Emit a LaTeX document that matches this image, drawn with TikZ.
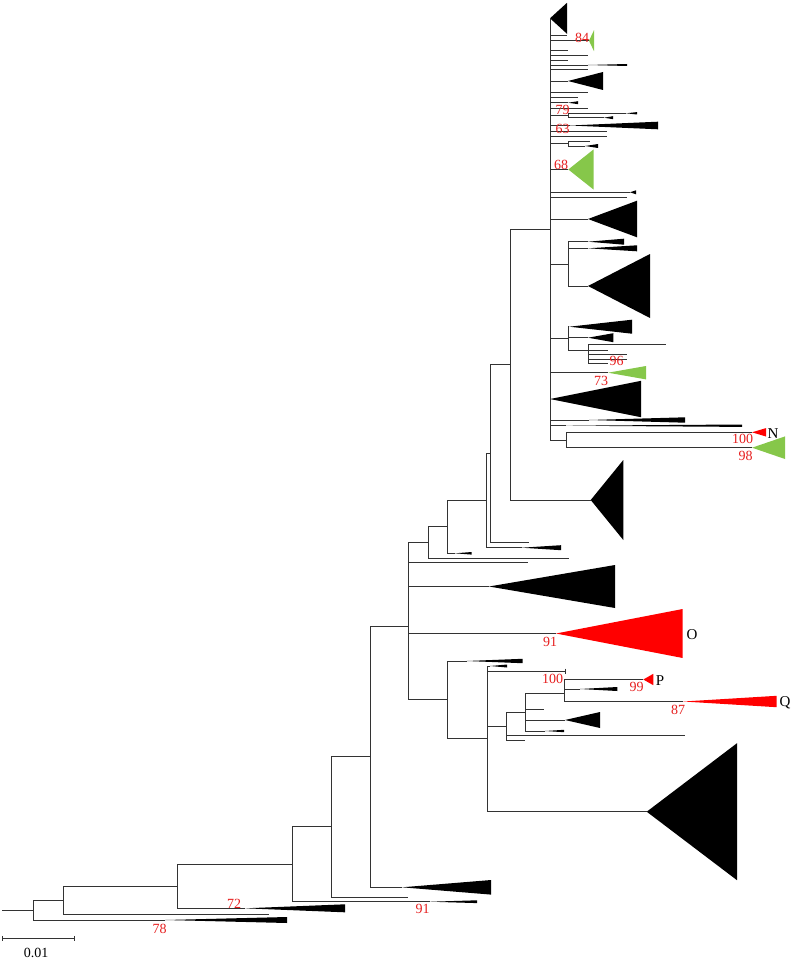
\documentclass[tikz,border=0pt]{standalone}
\usepackage{fontspec}
\setmainfont{Liberation Serif}
\usetikzlibrary{calc}
\definecolor{cgreen}{RGB}{134,199,74}
\definecolor{cred}{RGB}{255,0,0}
\definecolor{lred}{RGB}{230,30,30}
\newcommand\br[2]{\draw[tree] (#1) |- (#2);}
\newcommand\cl[6]{\coordinate (#1) at (#2,#3);\fill[#6] (#1) -- (#4,#3-#5) -- (#4,#3+#5) -- cycle;}
\newcommand\lf[3]{\coordinate (#1) at (#2,#3);}
\begin{document}
\begin{tikzpicture}[x=1pt,y=-1pt,
  tree/.style={draw=black!80,line width=0.9pt},
  bs/.style={text=lred,font=\fontsize{14}{14}\selectfont,inner sep=0pt},
  tag/.style={text=black,font=\fontsize{15}{15}\selectfont,inner sep=0pt}]
\useasboundingbox (0,0) rectangle (793,960);
% ---- basal part
\coordinate (rs) at (2,910.7);
\coordinate (r0) at (33,910.7);
\draw[tree] (rs) -- (r0);
\coordinate (n1) at (63,900.7); \br{r0}{n1}
\cl{t78}{165}{920}{287}{3}{black} \br{r0}{t78}
\node[bs] at (159.5,929.3) {78};
\coordinate (n2) at (177,886.7); \br{n1}{n2}
\lf{l1}{269}{914.7} \br{n1}{l1}
\coordinate (n3) at (292,864.3); \br{n2}{n3}
\cl{t72}{245}{908.3}{345}{4}{black} \br{n2}{t72}
\node[bs] at (234,904) {72};
\coordinate (n4) at (331,826.7); \br{n3}{n4}
\cl{t91}{430}{901.7}{477}{1.4}{black} \br{n3}{t91}
\node[bs] at (422.5,909.3) {91};
\coordinate (n5) at (370.7,756.7); \br{n4}{n5}
\lf{l2}{408.3}{897.3} \br{n4}{l2}
\coordinate (n6) at (408.7,626); \br{n5}{n6}
\cl{tb1}{402}{887.3}{491}{7.3}{black} \br{n5}{tb1}
% ---- n6
\coordinate (n7) at (428.5,542.3); \br{n6}{n7}
\lf{l3}{527.7}{562.7} \br{n6}{l3}
\cl{tA}{489}{586.5}{615}{21.5}{black} \br{n6}{tA}
\cl{tO}{556}{633.5}{682.7}{24.5}{cred} \br{n6}{tO}
\node[bs] at (550,641.7) {91};
\node[tag] at (692,635) {O};
\coordinate (n8) at (447.7,699.3); \br{n6}{n8}
% ---- n7 .. n12
\coordinate (n9) at (447.7,526.7); \br{n7}{n9}
\lf{l4}{569}{558.3} \br{n7}{l4}
\coordinate (n10) at (486.7,500.7); \br{n9}{n10}
\cl{w1}{455}{553.3}{471.7}{1.3}{black} \br{n9}{w1}
\coordinate (n11) at (490.7,453.3); \br{n10}{n11}
\cl{w2}{521.7}{547.7}{561}{2.5}{black} \br{n10}{w2}
\coordinate (n12) at (510.3,364.3); \br{n11}{n12}
\lf{l5}{529.3}{542.7} \br{n11}{l5}
\coordinate (n13) at (550,229); \br{n12}{n13}
\cl{tB}{590.7}{500}{623.3}{40}{black} \br{n12}{tB}
% ---- n8 subtree
\cl{w3}{466.7}{661}{522.5}{2.2}{black} \br{n8}{w3}
\coordinate (n14) at (487.7,738.5); \br{n8}{n14}
\cl{w4}{490}{666}{507}{1.5}{black} \br{n14}{w4}
\lf{l6}{565}{671} \br{n14}{l6}
\coordinate (l6t) at (565,668.5); \coordinate (l6b) at (565,673.5);
\draw[tree] (l6t) -- (l6b);
\coordinate (n15) at (506.7,726.7); \br{n14}{n15}
\cl{tC}{646.7}{811.7}{737}{68.5}{black} \br{n14}{tC}
\coordinate (n16) at (525.7,712.3); \br{n15}{n16}
\lf{l7}{685}{735.7} \br{n15}{l7}
\lf{l8}{525}{740} \br{n15}{l8}
\coordinate (n17) at (564,693.3); \br{n16}{n17}
\lf{l9}{544}{709.3} \br{n16}{l9}
\cl{t5}{565}{720}{600}{8}{black} \br{n16}{t5}
\cl{w5}{545}{731}{564}{1.2}{black} \br{n16}{w5}
\cl{tP}{643.3}{679.5}{653.3}{5.7}{cred} \br{n17}{tP}
\cl{w6}{580}{689}{617.3}{2}{black} \br{n17}{w6}
\cl{tQ}{683.3}{701.5}{776.7}{5.7}{cred} \br{n17}{tQ}
\node[bs] at (552.7,679.3) {100};
\node[bs] at (636.5,687.3) {99};
\node[tag] at (660,680.7) {P};
\node[bs] at (678,710) {87};
\node[tag] at (785,702.3) {Q};
% ---- top cluster n13
\cl{a1}{550}{18.3}{567}{15.5}{black} \br{n13}{a1}
\lf{a2}{567}{35.7} \br{n13}{a2}
\cl{a3}{589}{40.7}{594}{10.5}{cgreen} \br{n13}{a3}
\lf{a4}{568}{50} \br{n13}{a4}
\lf{a5}{588}{55} \br{n13}{a5}
\lf{a6}{568}{60} \br{n13}{a6}
\coordinate (a7) at (588,65); \br{n13}{a7}
\cl{a7w}{588}{65}{627}{1}{black}
\lf{a8}{588}{69.3} \br{n13}{a8}
\cl{a9}{568}{81}{603}{9}{black} \br{n13}{a9}
\lf{a10}{588}{92.3} \br{n13}{a10}
\lf{a11}{578}{97.7} \br{n13}{a11}
\cl{a12}{568}{102.7}{578}{1.5}{black} \br{n13}{a12}
\lf{a13}{588}{108.3} \br{n13}{a13}
\coordinate (a14) at (568,115.5); \br{n13}{a14}
\cl{a14a}{626}{113.3}{637}{1.2}{black} \br{a14}{a14a}
\cl{a14b}{604}{117.7}{613}{1.5}{black} \br{a14}{a14b}
\cl{a15}{570}{125.5}{658}{3.8}{black} \br{n13}{a15}
\lf{a16}{607}{131} \br{n13}{a16}
\lf{a17}{607}{136} \br{n13}{a17}
\coordinate (a18) at (568,143.5); \br{n13}{a18}
\lf{a18a}{590}{141} \br{a18}{a18a}
\cl{a18b}{585}{146}{598}{2}{black} \br{a18}{a18b}
\cl{a19}{568.3}{169.5}{593.5}{20}{cgreen} \br{n13}{a19}
\cl{a20}{630}{192.3}{636}{2}{black} \br{n13}{a20}
\lf{a21}{627}{197.7} \br{n13}{a21}
\cl{a22}{588}{219}{637}{18.3}{black} \br{n13}{a22}
\coordinate (a23) at (568.3,264.3); \br{n13}{a23}
\cl{a23a}{588}{241.7}{624}{3}{black} \br{a23}{a23a}
\cl{a23b}{588}{248.3}{637}{3}{black} \br{a23}{a23b}
\cl{a23c}{588}{286}{650}{32}{black} \br{a23}{a23c}
\coordinate (a24) at (568.3,338.3); \br{n13}{a24}
\cl{a24a}{569.3}{326.7}{632}{7}{black} \br{a24}{a24a}
\cl{a24b}{588}{337.7}{613.3}{4.5}{black} \br{a24}{a24b}
\coordinate (a25) at (588.3,350); \br{a24}{a25}
\lf{a25a}{666}{344.3} \br{a25}{a25a}
\lf{a25b}{608}{350} \br{a25}{a25b}
\lf{a25c}{627}{354.3} \br{a25}{a25c}
\lf{a25d}{627}{359} \br{a25}{a25d}
\lf{a25e}{608}{363.3} \br{a25}{a25e}
\cl{a26}{608}{372.7}{646}{6.7}{cgreen} \br{n13}{a26}
\cl{a27}{550}{399}{641}{18.2}{black} \br{n13}{a27}
\cl{a28}{589}{420}{685}{2.7}{black} \br{n13}{a28}
\cl{a29}{566}{425.7}{742}{1.2}{black} \br{n13}{a29}
\coordinate (a30) at (566,440); \br{n13}{a30}
\cl{a30a}{752}{432.3}{766}{4.2}{cred} \br{a30}{a30a}
\cl{a30b}{752}{447.7}{785}{11.3}{cgreen} \br{a30}{a30b}
\node[bs] at (582,37.7) {84};
\node[bs] at (562.5,110) {79};
\node[bs] at (562.5,129.3) {63};
\node[bs] at (561,165) {68};
\node[bs] at (616.7,361) {96};
\node[bs] at (601,381) {73};
\node[bs] at (742.5,439.3) {100};
\node[tag] at (773,433.3) {N};
\node[bs] at (745.5,456) {98};
% ---- scale bar
\coordinate (s1) at (2,938.3); \coordinate (s2) at (74,938.3);
\draw[tree] (s1) -- (s2);
\draw[tree] ($(s1)+(0,-2.5)$) -- ($(s1)+(0,2.5)$);
\draw[tree] ($(s2)+(0,-2.5)$) -- ($(s2)+(0,2.5)$);
\node[text=black,font=\fontsize{14}{14}\selectfont,inner sep=0pt] (sl) at (36,953.3) {0.01};
\end{tikzpicture}
\end{document}
